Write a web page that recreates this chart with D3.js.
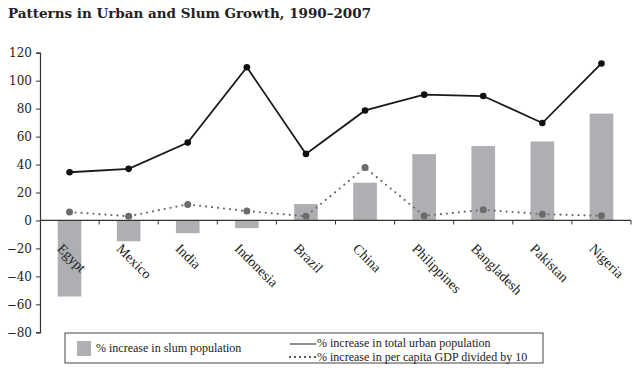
<!DOCTYPE html>
<html>
<head>
<meta charset="utf-8">
<script src="https://cdn.jsdelivr.net/npm/d3@7"></script>
<style>
  body { margin: 0; background: #fff; }
  svg { display: block; font-family: "DejaVu Serif", "Liberation Serif", serif; }
</style>
</head>
<body>
<div id="chart"></div>
<script>
// data
const countries = ["Egypt", "Mexico", "India", "Indonesia", "Brazil", "China", "Philippines", "Bangladesh", "Pakistan", "Nigeria"];
const slumGrowth = [-54.4, -14.9, -9.1, -5.5, 11.7, 27, 47.4, 53.2, 56.5, 76.4];
const urbanGrowth = [34.5, 36.9, 55.7, 109.6, 47.6, 78.7, 90, 89, 69.7, 112.3];
const gdpGrowth10 = [6, 3, 11.5, 6.7, 3, 37.8, 3.3, 7.6, 4.5, 3.3];
const yTicks = [-80, -60, -40, -20, 0, 20, 40, 60, 80, 100, 120];

const W = 640, H = 385;
const svg = d3.select("#chart").append("svg")
  .attr("width", W).attr("height", H);

// title
svg.append("text")
  .attr("x", 8).attr("y", 18)
  .attr("font-size", 13.5).attr("font-weight", "bold")
  .attr("fill", "#222")
  .text("Patterns in Urban and Slum Growth, 1990\u20132007");

const x = d3.scaleBand().domain(countries).range([40, 631]);
const y = d3.scaleLinear().domain([-80, 120]).range([332.3, 52.7]);

// bars
svg.append("g").selectAll("rect")
  .data(countries)
  .enter().append("rect")
  .attr("x", d => x(d) + x.bandwidth() * 0.3)
  .attr("width", x.bandwidth() * 0.4)
  .attr("y", (d, i) => y(Math.max(0, slumGrowth[i])))
  .attr("height", (d, i) => Math.abs(y(slumGrowth[i]) - y(0)))
  .attr("fill", "#aeafb2");

// y axis
const yAxis = svg.append("g")
  .attr("transform", "translate(40,0)")
  .call(d3.axisLeft(y).tickValues(yTicks).tickSize(4).tickPadding(4).tickFormat(d => d < 0 ? "\u2212" + Math.abs(d) : d));
yAxis.select(".domain").attr("stroke", "#333").attr("stroke-width", 1.2);
yAxis.selectAll(".tick line").attr("stroke", "#333");
yAxis.selectAll(".tick text")
  .attr("font-family", "DejaVu Serif, serif")
  .attr("font-size", 12).attr("fill", "#222");

// x axis along zero, ticks at category boundaries
const xg = svg.append("g");
xg.append("line")
  .attr("x1", 40).attr("x2", 631)
  .attr("y1", y(0)).attr("y2", y(0))
  .attr("stroke", "#333").attr("stroke-width", 1.2);
xg.selectAll("line.tk")
  .data(countries)
  .enter().append("line")
  .attr("class", "tk")
  .attr("x1", d => x(d) + x.bandwidth()).attr("x2", d => x(d) + x.bandwidth())
  .attr("y1", y(0)).attr("y2", y(0) + 4)
  .attr("stroke", "#333");
xg.selectAll("text")
  .data(countries)
  .enter().append("text")
  .attr("transform", d => `translate(${x(d) + x.bandwidth() / 2 - 13},${y(0) + 29}) rotate(45)`)
  .attr("font-family", "Liberation Serif, serif")
  .attr("font-size", 14).attr("fill", "#222")
  .text(d => d);

// gdp dotted line
const pts = v => countries.map((c, i) => [x(c) + x.bandwidth() / 2, y(v[i])]);
svg.append("path")
  .attr("d", d3.line()(pts(gdpGrowth10)))
  .attr("fill", "none").attr("stroke", "#6b6b6b")
  .attr("stroke-width", 2.2).attr("stroke-linecap", "round")
  .attr("stroke-dasharray", "0 6");
svg.append("g").selectAll("circle")
  .data(pts(gdpGrowth10))
  .enter().append("circle")
  .attr("cx", d => d[0]).attr("cy", d => d[1]).attr("r", 3.5)
  .attr("fill", "#6b6b6b");

// urban growth line
svg.append("path")
  .attr("d", d3.line()(pts(urbanGrowth)))
  .attr("fill", "none").attr("stroke", "#1a1a1a").attr("stroke-width", 1.8);
svg.append("g").selectAll("circle")
  .data(pts(urbanGrowth))
  .enter().append("circle")
  .attr("cx", d => d[0]).attr("cy", d => d[1]).attr("r", 3.3)
  .attr("fill", "#111");

// legend
const lg = svg.append("g")
  .attr("font-family", "Liberation Serif, serif")
  .attr("font-size", 12).attr("fill", "#222");
lg.append("rect")
  .attr("x", 65).attr("y", 333).attr("width", 478).attr("height", 30)
  .attr("fill", "#fff").attr("stroke", "#444").attr("stroke-width", 1);
lg.append("rect")
  .attr("x", 77).attr("y", 341).attr("width", 14).attr("height", 15)
  .attr("fill", "#aeafb2");
lg.append("text").attr("x", 96).attr("y", 352).text("% increase in slum population");
lg.append("line")
  .attr("x1", 290).attr("x2", 316).attr("y1", 344).attr("y2", 344)
  .attr("stroke", "#222").attr("stroke-width", 1);
lg.append("text").attr("x", 317).attr("y", 347).text("% increase in total urban population");
lg.append("line")
  .attr("x1", 290).attr("x2", 316).attr("y1", 357).attr("y2", 357)
  .attr("stroke", "#222").attr("stroke-width", 2)
  .attr("stroke-linecap", "round").attr("stroke-dasharray", "0 5");
lg.append("text").attr("x", 317).attr("y", 360.5).text("% increase in per capita GDP divided by 10");
</script>
</body>
</html>
